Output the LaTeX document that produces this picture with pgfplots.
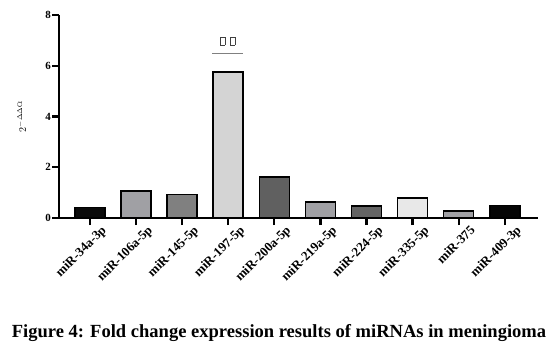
\documentclass[border=0pt]{standalone}
\usepackage{pgfplots}
\pgfplotsset{compat=1.18}
\usepackage{fontspec}
\setmainfont{Liberation Serif}
\definecolor{c1}{HTML}{0A0A0A}
\definecolor{c2}{HTML}{A0A0A4}
\definecolor{c3}{HTML}{808080}
\definecolor{c4}{HTML}{D4D4D4}
\definecolor{c5}{HTML}{606060}
\definecolor{c6}{HTML}{A0A0A4}
\definecolor{c7}{HTML}{646464}
\definecolor{c8}{HTML}{E8E8E8}
\definecolor{c9}{HTML}{A0A0A4}
\definecolor{c10}{HTML}{050505}
\begin{document}
\begin{tikzpicture}
\useasboundingbox (0,0) rectangle (554bp,-352bp);
\begin{axis}[
  at={(59bp,-218bp)}, anchor=south west,
  scale only axis, width=479bp, height=203bp,
  xmin=-0.67, xmax=9.72, ymin=0, ymax=8,
  axis lines=left, axis line style={line width=2.3pt,-},
  ytick={0,2,4,6,8},
  xtick={0,...,9},
  xticklabels={miR-34a-3p,miR-106a-5p,miR-145-5p,miR-197-5p,miR-200a-5p,miR-219a-5p,miR-224-5p,miR-335-5p,miR-375,miR-409-3p},
  x tick label style={rotate=45, anchor=north east, font=\bfseries\fontsize{13}{14}\selectfont, inner sep=1pt, yshift=-6pt, xshift=9pt},
  y tick label style={font=\bfseries\fontsize{11}{12}\selectfont, inner sep=1pt},
  /pgf/number format/assume math mode=true,
  tick style={line width=2.3pt, black},
  tick align=outside,
  major tick length=7bp,
  ylabel={$2^{-\Delta\Delta\mathrm{Ct}}$},
  ylabel style={font=\fontsize{10}{11}\selectfont, at={(axis description cs:-0.062,0.5)}},
  ybar, bar width=30bp, bar shift=0pt,
  every axis plot/.append style={draw=black, line width=1.5pt},
  clip=false,
]
\addplot[fill=c1] coordinates {(0,0.42)};
\addplot[fill=c2] coordinates {(1,1.07)};
\addplot[fill=c3] coordinates {(2,0.93)};
\addplot[fill=c4] coordinates {(3,5.76)};
\addplot[fill=c5] coordinates {(4,1.61)};
\addplot[fill=c6] coordinates {(5,0.63)};
\addplot[fill=c7] coordinates {(6,0.47)};
\addplot[fill=c8] coordinates {(7,0.78)};
\addplot[fill=c9] coordinates {(8,0.28)};
\addplot[fill=c10] coordinates {(9,0.50)};
\draw[gray, line width=1pt] (axis cs:2.65,6.5) -- (axis cs:3.32,6.5);
\node[text=darkgray] at (axis cs:2.99,6.97) {\fboxrule=0.6pt\fboxsep=0pt\fbox{\rule{0pt}{7pt}\hspace{4pt}}\hspace{5pt}\fbox{\rule{0pt}{7pt}\hspace{4pt}}};
\end{axis}
\node[font=\bfseries\fontsize{18.6}{21}\selectfont] at (279bp,-333bp) {Figure 4: Fold change expression results of miRNAs in meningioma};
\end{tikzpicture}
\end{document}
